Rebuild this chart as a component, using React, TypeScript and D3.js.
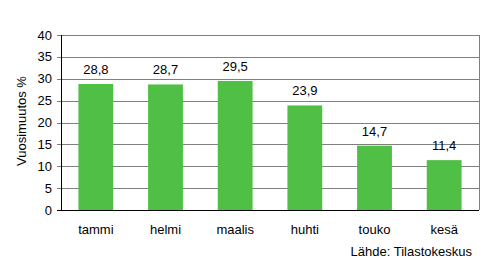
import React from "react";
import * as d3 from "d3";

const categories = ["tammi", "helmi", "maalis", "huhti", "touko", "kesä"];
const values = [28.8, 28.7, 29.5, 23.9, 14.7, 11.4];
const yTicks = [0, 5, 10, 15, 20, 25, 30, 35, 40];

export default function App() {
  const W = 495, H = 268;
  const left = 61, right = 479, top = 35, bottom = 210;
  const x = d3.scaleBand<string>().domain(categories).range([left, right]).paddingInner(0.5).paddingOuter(0.25);
  const y = d3.scaleLinear().domain([0, 40]).range([bottom, top]);
  const font = "Liberation Sans, Arial, sans-serif";
  const fs = 13;
  const fmt = (v: number) => v.toFixed(1).replace(".", ",");
  return (
    <svg width={W} height={H} style={{ position: "absolute", left: 0, top: 0 }} fontFamily={font}>
      <rect width={W} height={H} fill="#fff" />
      {yTicks.map((t) => (
        <g key={t}>
          <line x1={left - 4} x2={t === 0 ? left : right} y1={Math.round(y(t)) + 0.5} y2={Math.round(y(t)) + 0.5} stroke={t === 0 ? "#000" : "#808080"} strokeWidth={1} />
          <text x={52} y={y(t) + 4.5} textAnchor="end" fontSize={fs} fill="#000">{t}</text>
        </g>
      ))}
      <line x1={right + 0.5} x2={right + 0.5} y1={top} y2={bottom} stroke="#808080" />
      {values.map((v, i) => (
        <g key={i}>
          <rect x={x(categories[i])!} y={y(v)} width={x.bandwidth()} height={bottom - y(v)} fill="#50BF46" />
          <text x={x(categories[i])! + x.bandwidth() / 2} y={y(v) - 10} textAnchor="middle" fontSize={fs} fill="#000">{fmt(v)}</text>
        </g>
      ))}
      <line x1={left} x2={right} y1={bottom + 0.5} y2={bottom + 0.5} stroke="#000" />
      <line x1={left + 0.5} x2={left + 0.5} y1={top} y2={bottom} stroke="#000" />
      {categories.map((c) => (
        <text key={c} x={x(c)! + x.bandwidth() / 2} y={234} textAnchor="middle" fontSize={fs} fill="#000">{c}</text>
      ))}
      <text transform={`translate(26,121) rotate(-90)`} textAnchor="middle" fontSize={fs} fill="#000">Vuosimuutos %</text>
      <text x={472} y={256} textAnchor="end" fontSize={fs} fill="#000">Lähde: Tilastokeskus</text>
    </svg>
  );
}
